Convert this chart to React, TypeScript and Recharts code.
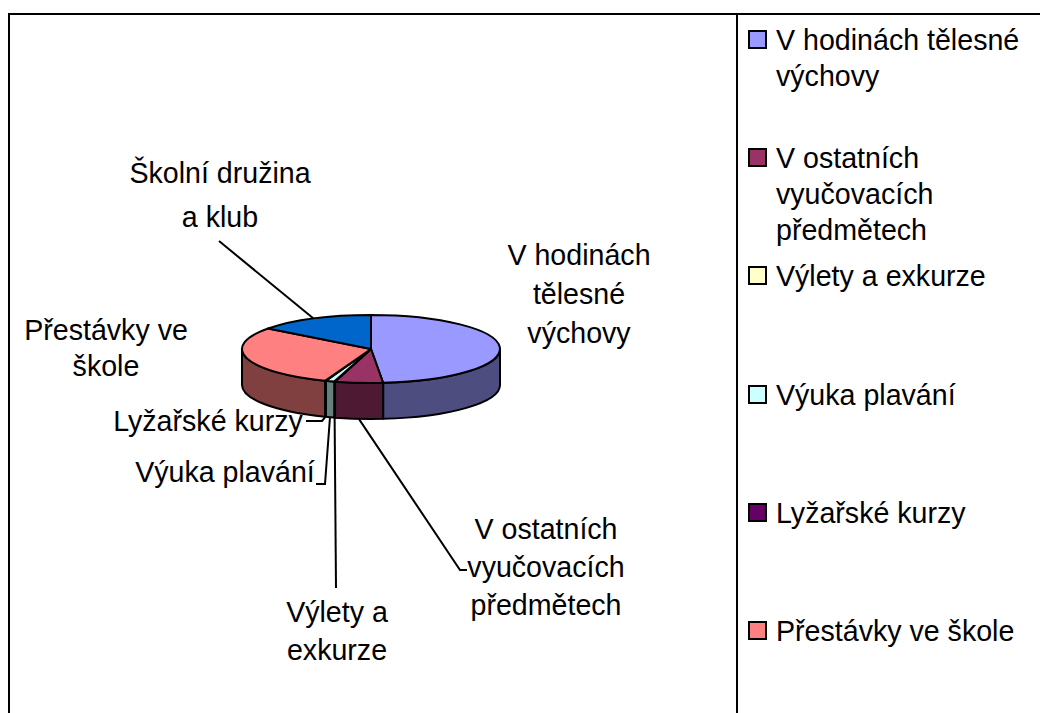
import React from 'react';
import { PieChart, Pie, Legend } from 'recharts';

const categories = [
  'V hodinách tělesné výchovy',
  'V ostatních vyučovacích předmětech',
  'Výlety a exkurze',
  'Výuka plavání',
  'Lyžařské kurzy',
  'Přestávky ve škole',
  'Školní družina a klub',
];
const shares = [48.5, 6.0, 0.1, 1.1, 0.1, 29.5, 14.7];
const colors = ['#9999FF', '#993366', '#FFFFCC', '#CCFFFF', '#660066', '#FF8080', '#0066CC'];
const sideColors = ['#4D4D80', '#4D1933', '#808066', '#668080', '#330033', '#804040', '#003366'];

// the last legend row falls below the bottom of the picture
const VISIBLE_LEGEND_ROWS = 6;

const data = categories.map((name, i) => ({
  name,
  value: shares[i],
  fill: colors[i],
  sideFill: sideColors[i],
}));

// label placement, one entry per slice
const labelLayout = [
  { x: 579, y: 265, gap: 39, lines: ['V hodinách', 'tělesné', 'výchovy'], leader: null },
  { x: 546, y: 539, gap: 38, lines: ['V ostatních', 'vyučovacích', 'předmětech'], leader: [[460, 570], [467, 570]] },
  { x: 337, y: 622, gap: 38, lines: ['Výlety a', 'exkurze'], leader: [[336, 588]] },
  { x: 225, y: 482, gap: 38, lines: ['Výuka plavání'], leader: [[325, 484], [316, 484]] },
  { x: 208, y: 431, gap: 38, lines: ['Lyžařské kurzy'], leader: [[322, 421], [306, 421]] },
  { x: 106, y: 340, gap: 36, lines: ['Přestávky ve', 'škole'], leader: null },
  { x: 220, y: 183, gap: 44, lines: ['Školní družina', 'a klub'], leader: [[219, 241]] },
];

const FONT = '"Liberation Sans", Arial, sans-serif';
const FONT_SIZE = 28.6;
const RY_RATIO = 34 / 129;
const DEPTH = 36;

const rad = (deg: number) => (deg * Math.PI) / 180;

// c is measured clockwise from the top of the ellipse
const ellipsePoint = (cx: number, cy: number, rx: number, c: number) => ({
  x: cx + rx * Math.sin(rad(c)),
  y: cy - rx * RY_RATIO * Math.cos(rad(c)),
});

const TopSlice = (props: any) => {
  const { cx, cy, outerRadius: rx, startAngle, endAngle, payload } = props;
  const c0 = 90 - startAngle;
  const c1 = 90 - endAngle;
  const a = ellipsePoint(cx, cy, rx, c0);
  const b = ellipsePoint(cx, cy, rx, c1);
  const large = c1 - c0 > 180 ? 1 : 0;
  const d = `M${cx},${cy}L${a.x},${a.y}A${rx},${rx * RY_RATIO} 0 ${large} 1 ${b.x},${b.y}Z`;
  return <path d={d} fill={payload.fill} stroke="#000" strokeWidth={2} strokeLinejoin="round" />;
};

const SideSlice = (props: any) => {
  const { cx, cy, outerRadius: rx, startAngle, endAngle, payload } = props;
  // only the front half of the rim is visible
  const c0 = Math.max(90 - startAngle, 90);
  const c1 = Math.min(90 - endAngle, 270);
  if (c0 >= c1) return null;
  const a = ellipsePoint(cx, cy, rx, c0);
  const b = ellipsePoint(cx, cy, rx, c1);
  const ry = rx * RY_RATIO;
  const d = `M${a.x},${a.y}A${rx},${ry} 0 0 1 ${b.x},${b.y}L${b.x},${b.y + DEPTH}A${rx},${ry} 0 0 0 ${a.x},${a.y + DEPTH}Z`;
  return <path d={d} fill={payload.sideFill} stroke="#000" strokeWidth={2} strokeLinejoin="round" />;
};

const SliceLabel = (props: any) => {
  const { cx, cy, outerRadius: rx, midAngle, index } = props;
  const layout = labelLayout[index];
  const c = 90 - midAngle;
  const edge = ellipsePoint(cx, cy, rx, c);
  const norm = ((c % 360) + 360) % 360;
  const isFront = norm > 90 && norm < 270;
  const startY = isFront ? edge.y + DEPTH : edge.y;
  const points = layout.leader
    ? [[edge.x, startY], ...layout.leader].map((p) => p.join(',')).join(' ')
    : null;
  return (
    <g>
      {points && <polyline points={points} fill="none" stroke="#000" strokeWidth={2} />}
      {layout.lines.map((line, i) => (
        <text
          key={line}
          x={layout.x}
          y={layout.y + i * layout.gap}
          textAnchor="middle"
          fontFamily={FONT}
          fontSize={FONT_SIZE}
          fill="#000"
        >
          {line}
        </text>
      ))}
    </g>
  );
};

const LegendList = ({ payload }: any) => (
  <div style={{ fontFamily: FONT, fontSize: FONT_SIZE, lineHeight: '36px', color: '#000' }}>
    {(payload || [])
      .filter((entry: any) => entry.type !== 'none')
      .slice(0, VISIBLE_LEGEND_ROWS)
      .map((entry: any) => (
        <div key={entry.value} style={{ height: 118.2, position: 'relative', paddingLeft: 28 }}>
          <span
            style={{
              position: 'absolute',
              left: 0,
              top: 8,
              width: 15,
              height: 15,
              background: entry.color,
              border: '2px solid #000',
            }}
          />
          {entry.value}
        </div>
      ))}
  </div>
);

export default function App() {
  return (
    <div style={{ position: 'absolute', left: 0, top: 0, width: 1040, height: 713, overflow: 'hidden', background: '#fff' }}>
      <div style={{ position: 'absolute', left: 8, top: 13, width: 1100, height: 800, borderTop: '2px solid #000', borderLeft: '2px solid #000' }} />
      <div style={{ position: 'absolute', left: 736, top: 13, width: 2, height: 800, background: '#000' }} />
      <PieChart
        width={1040}
        height={713}
        margin={{ top: 0, right: 0, bottom: 0, left: 0 }}
        style={{ position: 'absolute', left: 0, top: 0 }}
      >
        <Pie
          data={data}
          dataKey="value"
          nameKey="name"
          cx={371}
          cy={349}
          outerRadius={129}
          startAngle={90}
          endAngle={-270}
          shape={SideSlice}
          legendType="none"
          isAnimationActive={false}
        />
        <Pie
          data={data}
          dataKey="value"
          nameKey="name"
          cx={371}
          cy={349}
          outerRadius={129}
          startAngle={90}
          endAngle={-270}
          shape={TopSlice}
          label={SliceLabel}
          labelLine={false}
          isAnimationActive={false}
        />
        <Legend
          content={LegendList}
          itemSorter={null}
          wrapperStyle={{ position: 'absolute', left: 748, top: 22, width: 280, bottom: 'auto', right: 'auto' }}
        />
      </PieChart>
    </div>
  );
}
